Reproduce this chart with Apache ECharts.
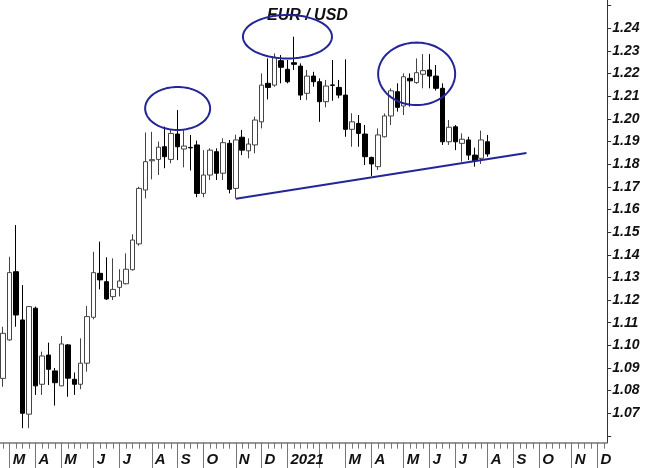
<!DOCTYPE html>
<html><head><meta charset="utf-8">
<script src="https://cdn.jsdelivr.net/npm/echarts@6/dist/echarts.min.js"></script>
<style>html,body{margin:0;padding:0;background:#fff}#c{width:650px;height:468px}</style>
</head><body><div id="c"></div>
<script>
// Weekly candles (week ending Friday), first week 2020-02-28
const firstWeek = '2020-02-28';
const weekCount = 94; // axis runs to Dec 2021
const monthLetters = ['J','F','M','A','M','J','J','A','S','O','N','D'];

const opens = [1.0854,1.1024,1.1325,1.1112,1.0696,1.1164,1.0828,1.0957,1.0887,1.0821,
1.1002,1.0850,1.0828,1.0921,1.1124,1.1318,1.1281,1.1215,1.1256,1.1272,
1.1334,1.1448,1.1686,1.1815,1.1821,1.1877,1.1821,1.1933,1.1867,1.1874,
1.1885,1.1671,1.1752,1.1855,1.1760,1.1892,1.1693,1.1919,1.1859,1.1885,
1.1987,1.2157,1.2149,1.2257,1.2219,1.2248,1.2233,1.2113,1.2189,1.2164,
1.2076,1.2150,1.2139,1.2105,1.1954,1.1980,1.1933,1.1830,1.1789,1.1921,
1.2013,1.2120,1.2057,1.2179,1.2160,1.2197,1.2216,1.2189,1.2135,1.1899,
1.1965,1.1892,1.1907,1.1840,1.1826,1.1899];
const closes = [1.1053,1.1321,1.1134,1.0700,1.1171,1.0821,1.0953,1.0894,1.0835,1.1006,
1.0855,1.0828,1.0921,1.1127,1.1321,1.1289,1.1205,1.1247,1.1284,1.1336,
1.1465,1.1693,1.1811,1.1820,1.1875,1.1833,1.1936,1.1877,1.1880,1.1872,
1.1671,1.1752,1.1862,1.1760,1.1895,1.1689,1.1907,1.1862,1.1889,1.1995,
1.2149,1.2139,1.2272,1.2228,1.2164,1.2241,1.2105,1.2189,1.2164,1.2076,
1.2145,1.2148,1.2105,1.1954,1.1987,1.1936,1.1833,1.1801,1.1929,1.2013,
1.2124,1.2051,1.2186,1.2168,1.2204,1.2213,1.2189,1.2135,1.1899,1.1963,
1.1899,1.1910,1.1840,1.1815,1.1907,1.1845];
const lows = [1.0817,1.1020,1.1082,1.0634,1.0634,1.0781,1.0781,1.0825,1.0734,1.0820,
1.0773,1.0781,1.0806,1.0884,1.1115,1.1247,1.1200,1.1200,1.1216,1.1269,
1.1330,1.1440,1.1649,1.1733,1.1752,1.1782,1.1804,1.1818,1.1786,1.1772,
1.1654,1.1654,1.1730,1.1730,1.1730,1.1671,1.1649,1.1840,1.1826,1.1848,
1.1958,1.2086,1.2142,1.2157,1.2157,1.2216,1.2083,1.2083,1.2142,1.1987,
1.2051,1.2080,1.2091,1.1921,1.1877,1.1877,1.1796,1.1748,1.1774,1.1918,
1.1973,1.2032,1.2017,1.2054,1.2155,1.2135,1.2135,1.2125,1.1885,1.1885,
1.1862,1.1811,1.1818,1.1789,1.1801,1.1833];
const highs = [1.1082,1.1391,1.1531,1.1266,1.1174,1.1171,1.0972,1.1012,1.0900,1.1041,
1.1006,1.0880,1.1031,1.1174,1.1413,1.1458,1.1389,1.1384,1.1336,1.1406,
1.1490,1.1700,1.1940,1.1943,1.1900,1.1966,1.1951,1.2039,1.1954,1.1929,
1.1904,1.1862,1.1870,1.1870,1.1914,1.1907,1.1930,1.1951,1.1914,1.2010,
1.2201,1.2267,1.2289,1.2282,1.2260,1.2363,1.2245,1.2216,1.2208,1.2179,
1.2172,1.2260,1.2172,1.2263,1.2025,1.2017,1.1973,1.1833,1.1958,1.2024,
1.2135,1.2157,1.2201,1.2201,1.2267,1.2286,1.2286,1.2238,1.2157,1.1995,
1.1973,1.1936,1.1921,1.1873,1.1948,1.1929];

// Annotations in data units: [weekIndex, price, radiusWeeks, radiusPrice]
const ellipses = [[27,1.2046,5.03,0.0095],[44,1.2363,6.89,0.0096],[64,1.2199,5.96,0.0138]];
// Support line: [weekIndex1, price1, weekIndex2, price2]
const trendLine = [[36,1.1647,81,1.1849]];

const yMin = 1.0570, yMax = 1.2525;

const weeks = [];
{
  let t = Date.parse(firstWeek + 'T00:00:00Z');
  for (let i = 0; i < weekCount; i++) { weeks.push(new Date(t).toISOString().slice(0,10)); t += 7*86400000; }
}
const candles = opens.map((o,i)=>[o, closes[i], lows[i], highs[i]]);
const isMonthStart = (i) => +weeks[i].slice(8,10) <= 7;
function monthLabel(v){
  const m = +v.slice(5,7), y = v.slice(0,4);
  if (m === 1) return y;
  if (m === 2 && y === '2021') return '';
  return monthLetters[m-1];
}

const font = 'Liberation Sans, Arial, sans-serif';
const chart = echarts.init(document.getElementById('c'), null, {renderer:'canvas'});
chart.setOption({
  animation:false,
  backgroundColor:'#fff',
  title:{text:'EUR / USD', left:262, top:3, textStyle:{fontSize:16, fontWeight:'bold', fontStyle:'italic', fontFamily:font, color:'#111'}},
  grid:{left:0, right:42.8, top:0, bottom:25.3, containLabel:false},
  xAxis:[{
    type:'category', data:weeks, boundaryGap:true, position:'bottom',
    axisLine:{show:true, lineStyle:{color:'#777', width:1.5}},
    axisTick:{show:true, interval:0, alignWithLabel:true, length:6, lineStyle:{color:'#777'}},
    axisLabel:{show:false}, splitLine:{show:false}
  },{
    type:'category', data:weeks, boundaryGap:true, position:'bottom', gridIndex:0,
    axisLine:{show:false},
    axisTick:{show:true, interval:(i)=>isMonthStart(i), alignWithLabel:true, length:28, lineStyle:{color:'#777'}},
    axisLabel:{show:true, interval:(i)=>isMonthStart(i), formatter:monthLabel, align:'left', margin:10, padding:[0,0,0,3],
      fontSize:15, fontWeight:'bold', fontStyle:'italic', fontFamily:font, color:'#111'},
    splitLine:{show:false}
  }],
  yAxis:{
    type:'value', position:'right', min:yMin, max:yMax, splitNumber:20, scale:true,
    axisLine:{show:true, lineStyle:{color:'#333', width:1}},
    axisTick:{show:true, length:4, lineStyle:{color:'#333'}},
    axisLabel:{show:true, margin:5, showMinLabel:false, showMaxLabel:false,
      formatter:(v)=> (v>1.065 && v<1.245) ? v.toFixed(2) : '',
      fontSize:14, fontWeight:'bold', fontStyle:'italic', fontFamily:font, color:'#111'},
    splitLine:{show:false}
  },
  series:[{
    type:'candlestick', data:candles, barWidth:5,
    itemStyle:{color:'#ffffff', color0:'#000000', borderColor:'#444', borderColor0:'#000', borderWidth:1}
  },{
    type:'custom', data:ellipses, z:10, silent:true, clip:false,
    renderItem:(params, api)=>{
      const c = api.coord([api.value(0), api.value(1)]);
      const bw = api.size([1,0])[0];
      const rx = api.value(2)*bw;
      const ry = Math.abs(api.coord([api.value(0), api.value(1)+api.value(3)])[1]-c[1]);
      const pts = [];
      for (let k=0;k<96;k++){ const a=k/96*2*Math.PI; pts.push([c[0]+rx*Math.cos(a), c[1]+ry*Math.sin(a)]); }
      return {type:'polygon', shape:{points:pts}, style:{fill:'none', stroke:'#25259a', lineWidth:2}};
    }
  },{
    type:'custom', data:trendLine, z:10, silent:true, clip:false,
    renderItem:(params, api)=>{
      const p1 = api.coord([api.value(0), api.value(1)]);
      const p2 = api.coord([api.value(2), api.value(3)]);
      return {type:'line', shape:{x1:p1[0], y1:p1[1], x2:p2[0], y2:p2[1]}, style:{stroke:'#25259a', lineWidth:2}};
    }
  }]
});
</script></body></html>
